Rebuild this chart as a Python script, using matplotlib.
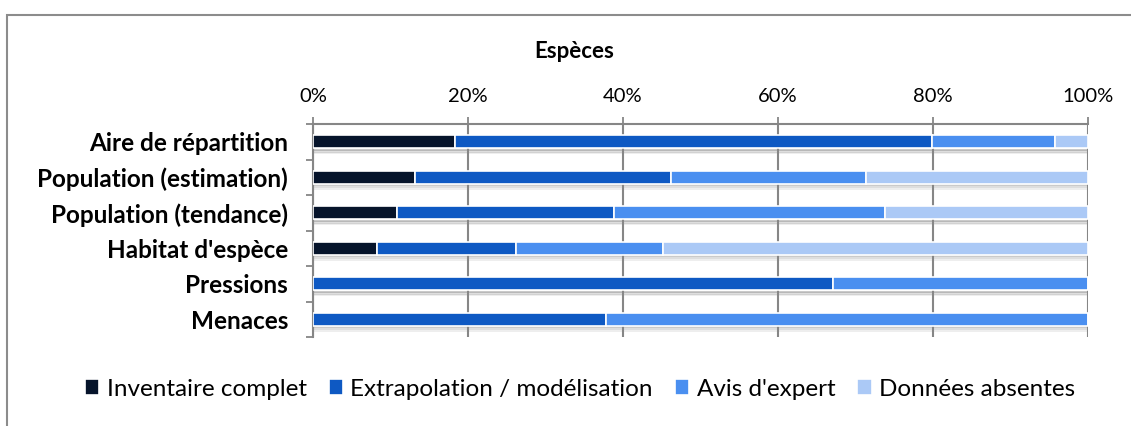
import matplotlib
matplotlib.use("Agg")
import matplotlib.pyplot as plt
from matplotlib.patches import Rectangle
from matplotlib.ticker import FixedLocator, PercentFormatter

plt.rcParams['font.family'] = ['Lato', 'DejaVu Sans']

categories = ["Aire de répartition", "Population (estimation)", "Population (tendance)",
              "Habitat d'espèce", "Pressions", "Menaces"]
series_names = ["Inventaire complet", "Extrapolation / modélisation", "Avis d'expert", "Données absentes"]
inventaire = [18.3, 13.2, 10.8, 8.3, 0.0, 0.0]
extrapolation = [61.6, 33.0, 28.0, 17.9, 67.1, 37.8]
avis_expert = [15.9, 25.1, 35.0, 18.9, 32.9, 62.2]
absentes = [4.2, 28.7, 26.2, 54.9, 0.0, 0.0]
tick_values = [0, 20, 40, 60, 80, 100]

colors = ["#06142b", "#0e59c3", "#4a8ff0", "#abc9f6"]

fig = plt.figure(figsize=(11.31, 4.26), dpi=100)
fig.patches.append(Rectangle((7 / 1131, -0.05), 1.2, 1 - 15 / 426 + 0.05,
                             transform=fig.transFigure, fill=False,
                             edgecolor="#8c8c8c", linewidth=1.5))

ax = fig.add_axes([313 / 1131, 1 - 337 / 426, 775 / 1131, 213 / 426])
ypos = list(range(len(categories)))
bar_h = 0.37

# soft drop shadow beneath each bar
totals = [a + b + c + d for a, b, c, d in zip(inventaire, extrapolation, avis_expert, absentes)]
for off, a in [(0.04, 0.45), (0.09, 0.28), (0.14, 0.14)]:
    ax.barh([y + bar_h / 2 + off for y in ypos], totals, height=0.06,
            color="#8a8a8a", alpha=a, linewidth=0, zorder=1.5)

left = [0.0] * len(categories)
for name, vals, col in zip(series_names, [inventaire, extrapolation, avis_expert, absentes], colors):
    ax.barh(ypos, vals, left=left, height=bar_h, color=col, edgecolor="white",
            linewidth=1.2, label=name, zorder=3)
    left = [l + v for l, v in zip(left, vals)]

ax.set_xlim(0, 100)
ax.set_ylim(len(categories) - 0.5, -0.5)
ax.xaxis.set_major_locator(FixedLocator(tick_values))
ax.xaxis.set_major_formatter(PercentFormatter(decimals=0))
ax.xaxis.tick_top()
ax.tick_params(axis="x", which="major", length=5, width=1.3, color="#868686",
               labelsize=14.5, pad=9, labelcolor="#000000")
ax.grid(axis="x", color="#868686", linewidth=1.5, zorder=0)
ax.set_axisbelow(True)

ax.set_yticks(ypos)
ax.set_yticklabels(categories, fontsize=17.5, fontweight="bold")
ax.yaxis.set_minor_locator(FixedLocator([y + 0.5 for y in range(-1, len(categories))]))
ax.tick_params(axis="y", which="major", length=0, pad=18)
ax.tick_params(axis="y", which="minor", length=5, width=1.3, color="#868686")

for s in ["right", "bottom"]:
    ax.spines[s].set_visible(False)
for s in ["top", "left"]:
    ax.spines[s].set_color("#868686")
    ax.spines[s].set_linewidth(1.5)

fig.text(574 / 1131, 1 - 52 / 426, "Espèces", ha="center", va="center",
         fontsize=16, fontweight="bold")

handles, labels = ax.get_legend_handles_labels()
fig.legend(handles, labels, loc="center", bbox_to_anchor=(580 / 1131, 1 - 389 / 426),
           ncol=4, frameon=False, fontsize=17.5, handlelength=0.6, handleheight=0.6,
           handletextpad=0.3, columnspacing=0.9)

fig.savefig("out.png", dpi=100)
